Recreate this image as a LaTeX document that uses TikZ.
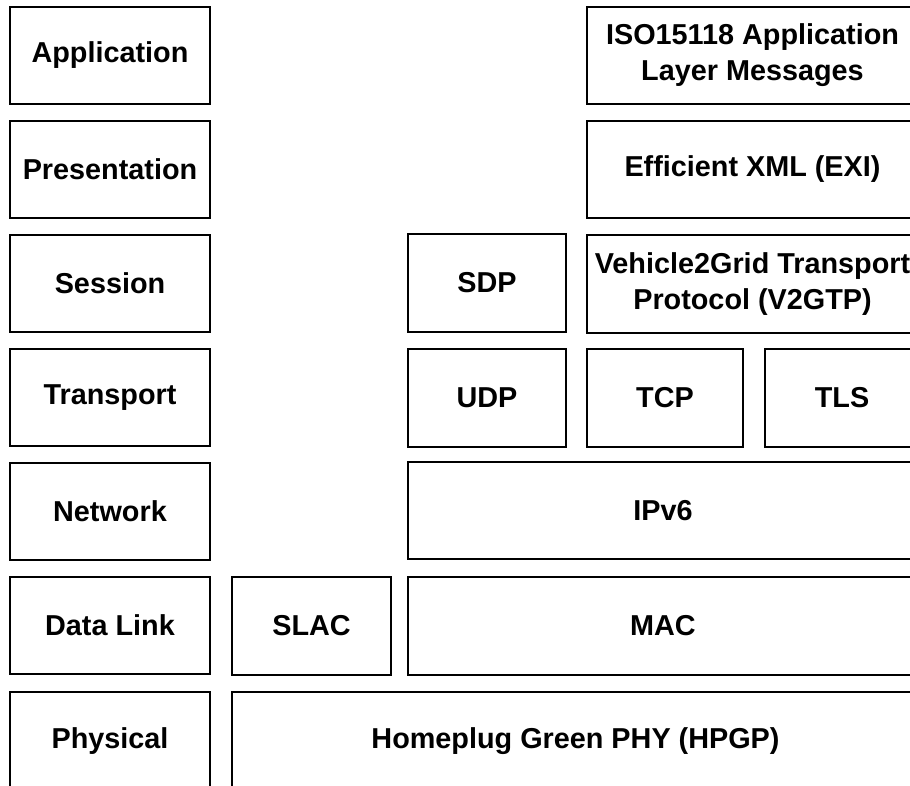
\documentclass[tikz,border=0pt]{standalone}
\usepackage{fontspec}
\setmainfont{Liberation Sans}
\begin{document}
\begin{tikzpicture}[x=1pt,y=-1pt,
  layerbox/.style={draw=black, line width=2pt, fill=white, outer sep=0pt, inner sep=0pt,
    anchor=north west, align=center, text=black,
    font=\fontsize{28.8}{36}\selectfont\bfseries}]
\useasboundingbox (0,0) rectangle (910,786);
\clip (0,0) rectangle (910,786);
% left column
\node[layerbox, minimum width=200, minimum height=97] (app)  at (10,7)   {Application};
\node[layerbox, minimum width=200, minimum height=97] (pres) at (10,121) {Presentation};
\node[layerbox, minimum width=200, minimum height=97] (sess) at (10,235) {Session};
\node[layerbox, minimum width=200, minimum height=97] (trans) at (10,349) {Transport};
\node[layerbox, minimum width=200, minimum height=97] (net)  at (10,463) {Network};
\node[layerbox, minimum width=200, minimum height=97] (dl)   at (10,577) {Data Link};
\node[layerbox, minimum width=200, minimum height=98] (phy)  at (10,692) {Physical};
% protocol boxes
\node[layerbox, minimum width=331, minimum height=97] (iso) at (587,7) {ISO15118 Application\\Layer Messages};
\node[layerbox, minimum width=331, minimum height=97] (exi) at (587,121) {Efficient XML (EXI)};
\node[layerbox, minimum width=158, minimum height=98] (sdp) at (408,234) {SDP};
\node[layerbox, minimum width=331, minimum height=98] (v2g) at (587,235) {Vehicle2Grid Transport\\Protocol (V2GTP)};
\node[layerbox, minimum width=158, minimum height=98] (udp) at (408,349) {UDP};
\node[layerbox, minimum width=156, minimum height=98] (tcp) at (587,349) {TCP};
\node[layerbox, minimum width=154, minimum height=98] (tls) at (765,349) {TLS};
\node[layerbox, minimum width=510, minimum height=97] (ipv6) at (408,462) {IPv6};
\node[layerbox, minimum width=159, minimum height=98] (slac) at (232,577) {SLAC};
\node[layerbox, minimum width=510, minimum height=98] (mac) at (408,577) {MAC};
\node[layerbox, minimum width=687, minimum height=98] (hpgp) at (232,692) {Homeplug Green PHY (HPGP)};
\end{tikzpicture}
\end{document}
